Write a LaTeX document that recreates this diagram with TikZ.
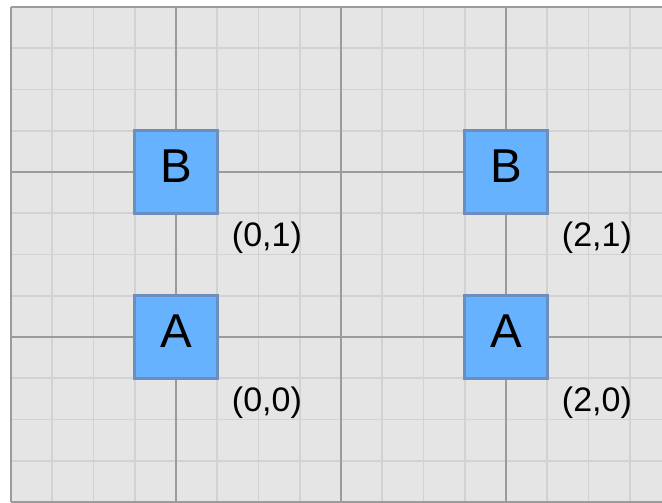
\documentclass[tikz,border=0pt]{standalone}
\usepackage{fontspec}
\setmainfont{Liberation Sans}
\usetikzlibrary{positioning}
\definecolor{gridbg}{RGB}{229,229,229}
\definecolor{gridminor}{RGB}{210,210,210}
\definecolor{gridmajor}{RGB}{155,155,155}
\definecolor{boxfill}{HTML}{66B2FF}
\definecolor{boxline}{HTML}{6C8EBF}

\begin{document}
\begin{tikzpicture}[
    x=165pt, y=165pt,
    cell/.style={rectangle, draw=boxline, fill=boxfill, line width=3pt,
                 minimum size=82.5pt, inner sep=0pt, text depth=11pt,
                 font=\fontsize{47.5}{50}\selectfont},
    coordlbl/.style={inner sep=0pt, font=\fontsize{34}{37}\selectfont},
    minorline/.style={draw=gridminor, line width=1.6pt},
    majorline/.style={draw=gridmajor, line width=1.2pt}
  ]
    \useasboundingbox (-1.0667,-1.006) rectangle (2.9455,2.0424);
    \fill[gridbg] (-1,-1) rectangle (2.9455,2);
    \draw[minorline, step=0.25] (-1,-1) grid (2.9455,2);
    \draw[majorline, step=1] (-1,-1) grid (2.9455,2);

    \node[cell] (a0) at (0,0) {A};
    \node[cell] (b0) at (0,1) {B};
    \node[cell] (a2) at (2,0) {A};
    \node[cell] (b2) at (2,1) {B};

    \node[coordlbl, below right=6.5pt and 13pt of a0.south east] (la0) {(0,0)};
    \node[coordlbl, below right=6.5pt and 13pt of b0.south east] (lb0) {(0,1)};
    \node[coordlbl, below right=6.5pt and 13pt of a2.south east] (la2) {(2,0)};
    \node[coordlbl, below right=6.5pt and 13pt of b2.south east] (lb2) {(2,1)};
  \end{tikzpicture}
\end{document}
